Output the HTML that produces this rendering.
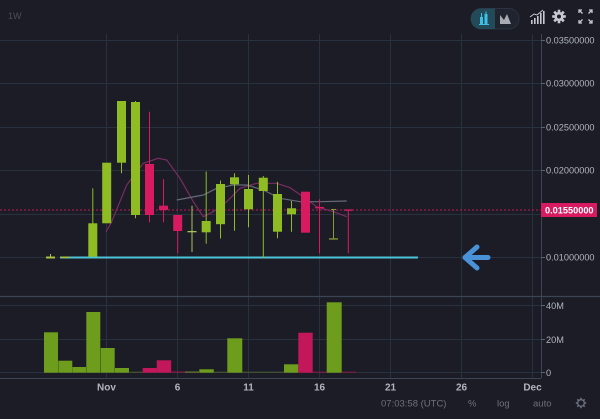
<!DOCTYPE html>
<html><head><meta charset="utf-8"><style>
html,body{margin:0;padding:0;background:#1b1c26;}
svg{display:block;}
text{font-family:"Liberation Sans",sans-serif;}
</style></head><body>
<svg width="600" height="419" viewBox="0 0 600 419" xmlns="http://www.w3.org/2000/svg">
<rect width="600" height="419" fill="#1b1c26"/>
<!-- grid vertical -->
<g stroke="#28313e" stroke-width="1">
<line x1="106.5" y1="34" x2="106.5" y2="378"/>
<line x1="177.5" y1="34" x2="177.5" y2="378"/>
<line x1="248.5" y1="34" x2="248.5" y2="378"/>
<line x1="319.5" y1="34" x2="319.5" y2="378"/>
<line x1="390.5" y1="34" x2="390.5" y2="378"/>
<line x1="461.5" y1="34" x2="461.5" y2="378"/>
<line x1="532.5" y1="34" x2="532.5" y2="378"/>
<!-- horizontal price -->
<line x1="0" y1="40.5" x2="541" y2="40.5"/>
<line x1="0" y1="83.5" x2="541" y2="83.5"/>
<line x1="0" y1="127.5" x2="541" y2="127.5"/>
<line x1="0" y1="170.5" x2="541" y2="170.5"/>
<line x1="0" y1="214.5" x2="541" y2="214.5"/>
<line x1="0" y1="257.5" x2="541" y2="257.5"/>
<!-- volume -->
<line x1="0" y1="305.5" x2="541" y2="305.5"/>
<line x1="0" y1="339.5" x2="541" y2="339.5"/>
<line x1="0" y1="372.5" x2="541" y2="372.5"/>
</g>
<!-- pane separators and axis -->
<line x1="0" y1="296.5" x2="600" y2="296.5" stroke="#3c4554" stroke-width="1.2"/>
<line x1="0" y1="378.5" x2="541" y2="378.5" stroke="#3c4554" stroke-width="1"/>
<line x1="541.5" y1="34" x2="541.5" y2="378" stroke="#3c4554" stroke-width="1"/>
<!-- axis ticks -->
<g stroke="#5a6170" stroke-width="1">
<line x1="541" y1="40.5" x2="545" y2="40.5"/>
<line x1="541" y1="83.5" x2="545" y2="83.5"/>
<line x1="541" y1="127.5" x2="545" y2="127.5"/>
<line x1="541" y1="170.5" x2="545" y2="170.5"/>
<line x1="541" y1="257.5" x2="545" y2="257.5"/>
<line x1="541" y1="305.5" x2="545" y2="305.5"/>
<line x1="541" y1="339.5" x2="545" y2="339.5"/>
<line x1="541" y1="372.5" x2="545" y2="372.5"/>
</g>

<!-- volume bars -->
<g>
<rect x="44" y="332.3" width="14" height="40.4" fill="#6e9c1c"/>
<rect x="58.3" y="360.7" width="14" height="12" fill="#6e9c1c"/>
<rect x="72.5" y="367" width="13.5" height="5.7" fill="#6e9c1c"/>
<rect x="86.3" y="312" width="14" height="60.7" fill="#6e9c1c"/>
<rect x="100.7" y="348" width="14" height="24.7" fill="#6e9c1c"/>
<rect x="115" y="368" width="14" height="4.7" fill="#6e9c1c"/>
<rect x="129.3" y="371.7" width="13.4" height="1" fill="#4a5a30"/>
<rect x="142.7" y="368" width="14" height="4.7" fill="#c2185b"/>
<rect x="156.7" y="360.3" width="14.5" height="12.4" fill="#c2185b"/>
<rect x="171.5" y="371.5" width="13.5" height="1.2" fill="#8a1a4a"/>
<rect x="185" y="371.5" width="14" height="1.2" fill="#6a7a30"/>
<rect x="199.3" y="369.3" width="14.5" height="3.4" fill="#6e9c1c"/>
<rect x="213.7" y="371.7" width="13.5" height="1" fill="#4a5a30"/>
<rect x="227.3" y="338.3" width="15" height="34.4" fill="#6e9c1c"/>
<rect x="242.3" y="371.7" width="42" height="1" fill="#4a5a30"/>
<rect x="284" y="364.3" width="14.3" height="8.4" fill="#6e9c1c"/>
<rect x="298.3" y="332.7" width="14.4" height="40" fill="#c2185b"/>
<rect x="312.7" y="371.7" width="14" height="1" fill="#8a1a4a"/>
<rect x="326.7" y="302.3" width="15" height="70.4" fill="#6e9c1c"/>
<rect x="341.7" y="371.7" width="14.3" height="1" fill="#8a1a4a"/>
</g>

<!-- cyan line -->
<line x1="60" y1="257.5" x2="418" y2="257.5" stroke="#4cc3d6" stroke-width="2"/>
<!-- dotted price line -->
<line x1="0" y1="210" x2="541" y2="210" stroke="#c2185b" stroke-width="1" stroke-dasharray="2,2"/>

<!-- moving averages -->
<polyline fill="none" stroke="#7a2c62" stroke-width="1.2" points="106,232 111.7,221.7 126.7,185 143.3,163.3 158.3,158.3 166.7,160 180,178.3 193.3,201.7 203.3,216.7 213.3,211.7 226.7,201.7 240,188.3 256.7,183.3 276.7,183.3 290,187.7 303.3,196.7 316.7,206.7 333.3,211.7 346.7,216.7"/>
<polyline fill="none" stroke="#666a7a" stroke-width="1.2" points="176.7,200 203.3,195 216.7,188.3 233.3,185 246.7,185 263.3,190 280,198.3 300,201.7 320,201.7 346.7,201"/>

<!-- candles -->
<g stroke-width="1">
<!-- Oct 28 -->
<line x1="50.5" y1="254" x2="50.5" y2="258" stroke="#a8c040"/>
<rect x="46" y="256.5" width="9" height="2" fill="#a8c040"/>
<!-- Oct 29 -->
<rect x="60.5" y="256.5" width="9" height="1.6" fill="#a8c040"/>
<!-- Oct 31 -->
<line x1="92.8" y1="188.3" x2="92.8" y2="224" stroke="#8fbc23"/>
<rect x="88.3" y="223.3" width="9" height="33.4" fill="#8fbc23"/>
<!-- Nov 1 -->
<rect x="102.2" y="162.7" width="9" height="60.6" fill="#8fbc23"/>
<!-- Nov 2 -->
<line x1="121.5" y1="160" x2="121.5" y2="173.3" stroke="#8fbc23"/>
<rect x="117" y="101" width="9" height="61.7" fill="#8fbc23"/>
<!-- Nov 3 -->
<line x1="135.5" y1="101" x2="135.5" y2="218.3" stroke="#8fbc23"/>
<rect x="131" y="102" width="9" height="113" fill="#8fbc23"/>
<!-- Nov 4 -->
<line x1="149.5" y1="111.7" x2="149.5" y2="222.3" stroke="#d81b60"/>
<rect x="145" y="164" width="9" height="51" fill="#d81b60"/>
<!-- Nov 5 -->
<line x1="163.5" y1="179.3" x2="163.5" y2="222.3" stroke="#d81b60"/>
<rect x="159" y="205.7" width="9" height="4.3" fill="#d81b60"/>
<!-- Nov 6 -->
<line x1="177.7" y1="215" x2="177.7" y2="253.3" stroke="#d81b60"/>
<rect x="173.2" y="215" width="9" height="16" fill="#d81b60"/>
<!-- Nov 7 -->
<line x1="192" y1="205.7" x2="192" y2="252" stroke="#a9c45a"/>
<rect x="187.5" y="231" width="9" height="1.3" fill="#a9c45a"/>
<!-- Nov 8 -->
<line x1="206.2" y1="171.5" x2="206.2" y2="243.7" stroke="#8fbc23"/>
<rect x="201.7" y="221" width="9" height="11.3" fill="#8fbc23"/>
<!-- Nov 9 -->
<line x1="220.5" y1="180.5" x2="220.5" y2="238.5" stroke="#8fbc23"/>
<rect x="216" y="184" width="9" height="40.2" fill="#8fbc23"/>
<!-- Nov 10 -->
<line x1="234.5" y1="173.3" x2="234.5" y2="230.7" stroke="#8fbc23"/>
<rect x="230" y="177.3" width="9" height="7" fill="#8fbc23"/>
<!-- Nov 11 -->
<line x1="248.5" y1="175" x2="248.5" y2="227.3" stroke="#8fbc23"/>
<rect x="244" y="189" width="9" height="20.3" fill="#8fbc23"/>
<!-- Nov 12 -->
<line x1="263.3" y1="176" x2="263.3" y2="258.3" stroke="#8fbc23"/>
<rect x="258.8" y="177.7" width="9" height="13.3" fill="#8fbc23"/>
<!-- Nov 13 -->
<line x1="277.5" y1="181.7" x2="277.5" y2="238.3" stroke="#8fbc23"/>
<rect x="273" y="194" width="9" height="37.7" fill="#8fbc23"/>
<!-- Nov 14 -->
<line x1="291.5" y1="201" x2="291.5" y2="231.7" stroke="#8fbc23"/>
<rect x="287" y="208.3" width="9" height="6" fill="#8fbc23"/>
<!-- Nov 15 -->
<rect x="301" y="191.7" width="9" height="41" fill="#d81b60"/>
<!-- Nov 16 -->
<line x1="319.5" y1="199.3" x2="319.5" y2="253.3" stroke="#d81b60"/>
<rect x="315" y="207" width="9" height="1.4" fill="#d81b60"/>
<!-- Nov 17 -->
<line x1="333.5" y1="209.3" x2="333.5" y2="239" stroke="#8a9a3a"/>
<rect x="329" y="238.3" width="9" height="1.3" fill="#8a9a3a"/>
<rect x="331" y="209" width="5" height="1" fill="#8a9a3a"/>
<!-- Nov 18 -->
<line x1="348.3" y1="210" x2="348.3" y2="253.3" stroke="#d81b60"/>
<rect x="343.8" y="209.4" width="9" height="1.4" fill="#d81b60"/>
</g>

<!-- blue arrow -->
<g stroke="#4a92d8" stroke-width="5" stroke-linecap="round" stroke-linejoin="round" fill="none">
<line x1="465" y1="257.5" x2="488" y2="257.5"/>
<polyline points="477,247 465,257.5 477,268"/>
</g>

<!-- price axis labels -->
<g fill="#b2b5be" font-size="9.2">
<text x="546" y="43.7">0.03500000</text>
<text x="546" y="86.7">0.03000000</text>
<text x="546" y="130.7">0.02500000</text>
<text x="546" y="173.7">0.02000000</text>
<text x="546" y="260.7">0.01000000</text>
</g>
<!-- current price label -->
<rect x="541" y="203" width="56" height="14" fill="#d81b60"/>
<text x="545" y="213.3" fill="#ffffff" font-size="9.2" font-weight="bold">0.01550000</text>
<!-- volume labels -->
<g fill="#b2b5be" font-size="9.2">
<text x="546" y="309">40M</text>
<text x="546" y="343">20M</text>
<text x="546" y="376">0</text>
</g>
<!-- time labels -->
<g fill="#b2b5be" font-size="10" font-weight="bold" text-anchor="middle">
<text x="106.5" y="390.5">Nov</text>
<text x="177.5" y="390.5">6</text>
<text x="248.5" y="390.5">11</text>
<text x="319.5" y="390.5">16</text>
<text x="390.5" y="390.5">21</text>
<text x="461.5" y="390.5">26</text>
<text x="532.5" y="390.5">Dec</text>
</g>
<!-- status bar -->
<g fill="#6d707c" font-size="9.5">
<text x="381" y="406.5">07:03:58 (UTC)</text>
<text x="468" y="406.5">%</text>
<text x="497" y="406.5">log</text>
<text x="533" y="406.5">auto</text>
</g>
<!-- bottom gear -->
<g transform="translate(581,403)" fill="none" stroke="#6d707c" stroke-width="1.3">
<circle r="3.3"/>
<g stroke-width="1.6">
<line x1="0" y1="-5.2" x2="0" y2="-3.6"/><line x1="0" y1="5.2" x2="0" y2="3.6"/>
<line x1="-5.2" y1="0" x2="-3.6" y2="0"/><line x1="5.2" y1="0" x2="3.6" y2="0"/>
<line x1="-3.7" y1="-3.7" x2="-2.6" y2="-2.6"/><line x1="3.7" y1="3.7" x2="2.6" y2="2.6"/>
<line x1="-3.7" y1="3.7" x2="-2.6" y2="2.6"/><line x1="3.7" y1="-3.7" x2="2.6" y2="-2.6"/>
</g>
</g>

<!-- top toolbar -->
<text x="8" y="19" fill="#4a4d58" font-size="9">1W</text>
<rect x="471" y="8.5" width="48" height="20.5" rx="10" fill="#20242f" stroke="#2c3240" stroke-width="1"/>
<path d="M481,8.5 H495 V29 H481 A10,10 0 0 1 481,8.5 Z" fill="#234a58"/>
<g fill="#3ec0e6">
<rect x="480" y="17" width="3" height="7"/>
<rect x="484.5" y="14" width="3" height="10"/>
<rect x="481" y="13" width="1" height="4"/>
<rect x="485.5" y="11.5" width="1" height="3"/>
<rect x="479" y="24" width="10" height="1"/>
</g>
<path d="M500,24 L500,15 L504,20 L507,14 L511,24 Z" fill="#a8aab4"/>
<!-- indicator icon -->
<g fill="#c8c9d0">
<rect x="531" y="20" width="1.6" height="4"/>
<rect x="534" y="18" width="1.6" height="6"/>
<rect x="537" y="16" width="1.6" height="8"/>
<rect x="540" y="13" width="1.6" height="11"/>
<rect x="543" y="11" width="1.6" height="13"/>
</g>
<polyline points="530,17 534,14 537,15 543,10" fill="none" stroke="#c8c9d0" stroke-width="1"/>
<!-- gear -->
<g transform="translate(559,16.5)">
<circle r="4.6" fill="#c8c9d0"/>
<g stroke="#c8c9d0" stroke-width="2.6">
<line x1="0" y1="-6.8" x2="0" y2="6.8"/><line x1="-6.8" y1="0" x2="6.8" y2="0"/>
<line x1="-4.8" y1="-4.8" x2="4.8" y2="4.8"/><line x1="-4.8" y1="4.8" x2="4.8" y2="-4.8"/>
</g>
<circle r="2" fill="#1b1c26"/>
</g>
<!-- fullscreen -->
<g stroke="#c8c9d0" stroke-width="1.3" fill="none">
<polyline points="579,13 579,10 582,10"/><line x1="579" y1="10" x2="582.5" y2="13.5"/>
<polyline points="589,10 592,10 592,13"/><line x1="592" y1="10" x2="588.5" y2="13.5"/>
<polyline points="579,20 579,23 582,23"/><line x1="579" y1="23" x2="582.5" y2="19.5"/>
<polyline points="589,23 592,23 592,20"/><line x1="592" y1="23" x2="588.5" y2="19.5"/>
</g>
</svg>
</body></html>
